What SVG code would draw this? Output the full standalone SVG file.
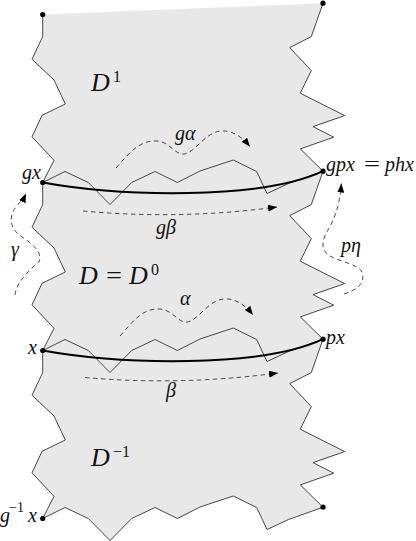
<svg xmlns="http://www.w3.org/2000/svg" width="416" height="541" viewBox="0 0 416 541">
<defs>
<marker id="ah" markerUnits="userSpaceOnUse" markerWidth="10" markerHeight="7" refX="9" refY="3.5" orient="auto">
<path d="M0,0 L9,3.5 L0,7 z" fill="#000"/>
</marker>
<style>
.zig{fill:none;stroke:#333;stroke-width:0.9;stroke-linejoin:miter}
.thick{fill:none;stroke:#000;stroke-width:2}
.dash{fill:none;stroke:#333;stroke-width:0.9;stroke-dasharray:4.5,3.5;marker-end:url(#ah)}
.t{font-family:"Liberation Serif","DejaVu Serif",serif;font-style:italic;font-size:20px;fill:#111}
.big{font-family:"Liberation Serif","DejaVu Serif",serif;font-style:italic;font-size:26px;fill:#111}
.up{font-family:"Liberation Serif","DejaVu Serif",serif;font-style:normal;fill:#111}
</style>
</defs>

<g id="region">
<polygon fill="#e8e8e8" stroke="none" points="42.7,14.5 323,3.2 311.3,36.6 289.7,47.6 311.3,70.6 300.3,93.2 344.7,115.6 313,126.6 333.7,137.2 300.3,148.9 323,171.2 311.3,204.6 289.7,215.6 311.3,238.6 300.3,261.2 344.7,283.6 313,294.6 333.7,305.2 300.3,316.9 323,339.2 311.3,372.6 289.7,383.6 311.3,406.6 300.3,429.2 344.7,451.6 313,462.6 333.7,473.2 300.3,484.9 323,507.2 288.5,519.5 267,529.5 256.7,507.5 233.3,496 200,507 177.3,518.5 155,507.5 131.7,518.5 110,540.5 88.3,518.5 65,507.5 42.7,518.5 54,496.3 32,472.8 42,451.3 65.3,440 54,416 32,395.2 42.7,372.5 42.7,350.5 54,328.3 32,304.8 42,283.3 65.3,272 54,248 32,227.2 42.7,204.5 42.7,182.5 54,160.3 32,136.8 42,115.3 65.3,104 54,80 32,59.2 42.7,36.5"/>
</g>

<g id="boundaries">
<polyline class="zig" points="42.7,14.5 42.7,36.5 32,59.2 54,80 65.3,104 42,115.3 32,136.8 54,160.3 42.7,182.5 42.7,204.5 32,227.2 54,248 65.3,272 42,283.3 32,304.8 54,328.3 42.7,350.5 42.7,372.5 32,395.2 54,416 65.3,440 42,451.3 32,472.8 54,496.3 42.7,518.5"/>
<polyline class="zig" points="323,3.2 311.3,36.6 289.7,47.6 311.3,70.6 300.3,93.2 344.7,115.6 313,126.6 333.7,137.2 300.3,148.9 323,171.2 311.3,204.6 289.7,215.6 311.3,238.6 300.3,261.2 344.7,283.6 313,294.6 333.7,305.2 300.3,316.9 323,339.2 311.3,372.6 289.7,383.6 311.3,406.6 300.3,429.2 344.7,451.6 313,462.6 333.7,473.2 300.3,484.9 323,507.2"/>
<polyline class="zig" points="42.7,182.5 65,171.5 88.3,182.5 110,204.5 131.7,182.5 155,171.5 177.3,182.5 200,171 233.3,160 256.7,171.5 267,193.5 288.5,183.5 323,171.2"/>
<polyline class="zig" points="42.7,350.5 65,339.5 88.3,350.5 110,372.5 131.7,350.5 155,339.5 177.3,350.5 200,339 233.3,328 256.7,339.5 267,361.5 288.5,351.5 323,339.2"/>
<polyline class="zig" points="42.7,518.5 65,507.5 88.3,518.5 110,540.5 131.7,518.5 155,507.5 177.3,518.5 200,507 233.3,496 256.7,507.5 267,529.5 288.5,519.5 323,507.2"/>
</g>

<g id="connectors">
<path class="thick" d="M42.7,182.5 C120,196.5 260,200.5 323,171.2"/>
<path class="thick" d="M42.7,350.5 C120,364.5 260,368.5 323,339.2"/>
<path class="dash" d="M116,168 C130,152 140,140 157,141 C170,142 175,155 184,154 C195,153 205,132 221,131 C233,130 243,138 250,146.7"/>
<path class="dash" d="M120,336 C134,320 143,308 160,309 C173,310 178,323 187,322 C198,321 208,300 224,299 C236,298 246,306 253,315"/>
<path class="dash" d="M83,211 Q180,220 277,207"/>
<path class="dash" d="M85,377.5 Q180,386 278,373"/>
<path class="dash" d="M15,295 C16,283 29,270 39,262 C43,253 33,244 22,237 C10,229 8,217 16,207 C20,202 24,198 26,193.5"/>
<path class="dash" d="M344,294 C356,290 366,284 362,272 C358,264 340,262 330,256 C320,250 322,240 328,230 C334,220 340,205 341.3,183.5"/>
</g>

<g id="points" fill="#000">
<circle cx="42.7" cy="14.5" r="2.6"/>
<circle cx="323" cy="3.2" r="2.6"/>
<circle cx="42.7" cy="182.5" r="2.6"/>
<circle cx="323" cy="171.2" r="2.6"/>
<circle cx="42.7" cy="350.5" r="2.6"/>
<circle cx="323" cy="339.2" r="2.6"/>
<circle cx="42.7" cy="518.5" r="2.6"/>
<circle cx="323" cy="507.2" r="2.6"/>
</g>

<g id="labels">
<text class="big" x="91" y="91">D</text>
<text class="up" x="113" y="82" font-size="16">1</text>
<text class="big" x="79" y="284">D</text>
<text class="up" x="106" y="284" font-size="25" textLength="16" lengthAdjust="spacingAndGlyphs">=</text>
<text class="big" x="129" y="284">D</text>
<text class="up" x="151" y="275" font-size="16">0</text>
<text class="big" x="91" y="466">D</text>
<text class="up" x="113" y="457" font-size="16">−1</text>
<text class="t" x="175" y="140">gα</text>
<text class="t" x="180" y="305">α</text>
<text class="t" x="156" y="233.5">gβ</text>
<text class="t" x="166" y="396.5">β</text>
<text class="t" x="11" y="256">γ</text>
<text class="t" x="341" y="251.5">pη</text>
<text class="t" x="22" y="179">gx</text>
<text class="t" x="326" y="170.5" font-size="19">gpx</text>
<text class="up" x="364" y="170.5" font-size="21" textLength="16" lengthAdjust="spacingAndGlyphs">=</text>
<text class="t" x="385" y="170.5" font-size="19">phx</text>
<text class="t" x="28" y="353.5">x</text>
<text class="t" x="326" y="343.5">px</text>
<text class="t" x="0" y="522">g</text>
<text class="up" x="9" y="512" font-size="14">−1</text>
<text class="t" x="28" y="522">x</text>
</g>
</svg>
